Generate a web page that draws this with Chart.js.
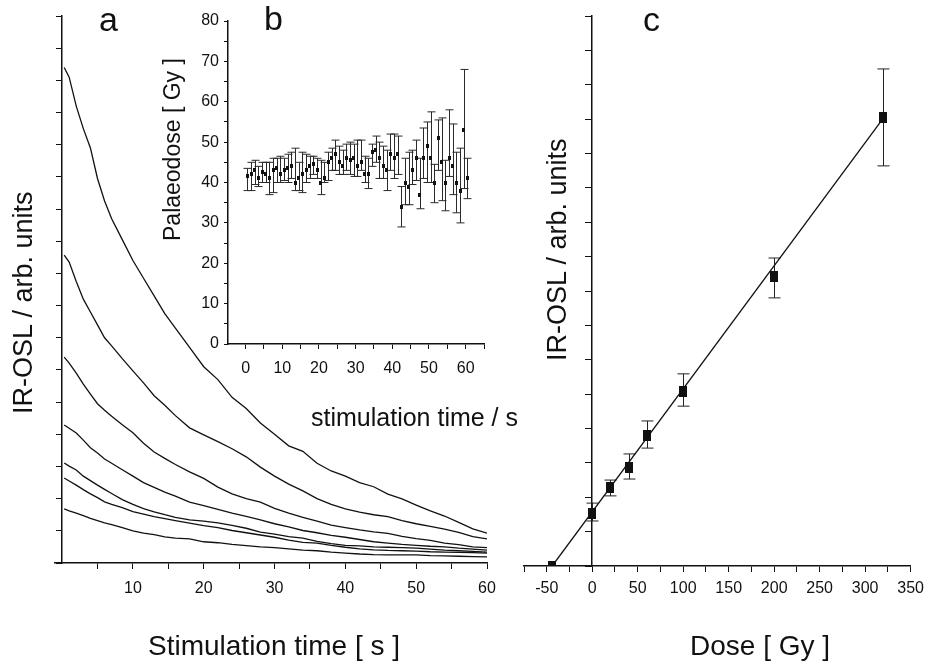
<!DOCTYPE html>
<html>
<head>
<meta charset="utf-8">
<script src="https://cdn.jsdelivr.net/npm/chart.js@4.4.1/dist/chart.umd.min.js"></script>
<style>
  body { margin: 0; background: #fff; }
  #wrap { position: relative; width: 931px; height: 663px; overflow: hidden;
          font-family: "Liberation Sans", Arial, sans-serif; color: #111; }
  canvas { position: absolute; top: 0; }
  .lbl { position: absolute; white-space: nowrap; line-height: 1; z-index: 5; }
  .rot { transform: rotate(-90deg); transform-origin: 0 0; }
</style>
</head>
<body>
<div id="wrap">
  <canvas id="chartA" width="520" height="663" style="left:0"></canvas>
  <canvas id="chartC" width="431" height="663" style="left:500px"></canvas>
  <canvas id="chartB" width="360" height="400" style="left:140px"></canvas>

  <span class="lbl" style="left:99px;top:2px;font-size:34px">a</span>
  <span class="lbl" style="left:264px;top:1px;font-size:34px">b</span>
  <span class="lbl" style="left:643px;top:2px;font-size:34px">c</span>
  <span class="lbl rot" style="left:10px;top:414px;font-size:27px">IR-OSL / arb. units</span>
  <span class="lbl rot" style="left:544px;top:361px;font-size:27px">IR-OSL / arb. units</span>
  <span class="lbl rot" style="left:161px;top:241px;font-size:23px">Palaeodose [ Gy ]</span>
  <span class="lbl" style="left:311px;top:405px;font-size:25px">stimulation time / s</span>
  <span class="lbl" style="left:148px;top:632px;font-size:28px">Stimulation time [ s ]</span>
  <span class="lbl" style="left:690px;top:632px;font-size:28px">Dose [ Gy ]</span>
</div>
<script>
// panel a: IR-OSL decay curves
const aTime = [0.3, 1, 2, 3, 4, 5, 6, 7, 8.5, 10, 11.5, 13, 14.5, 16, 18, 20, 22, 24, 26, 28,
  30, 32, 34, 36, 38, 40, 42, 44, 46, 48, 50, 52, 54, 56, 58, 60];
const curve1 = [15.4, 15.1, 14.2, 13.5, 12.9, 11.95, 11.25, 10.7, 10.05, 9.4, 8.85, 8.3, 7.75, 7.3, 6.7, 6.1, 5.7, 5.15, 4.8, 4.35,
  4.0, 3.64, 3.47, 3.1, 2.86, 2.7, 2.5, 2.37, 2.14, 1.99, 1.8, 1.62, 1.46, 1.26, 1.06, 0.93];
const curve2 = [9.57, 9.35, 8.75, 8.2, 7.8, 7.4, 7.0, 6.75, 6.35, 5.97, 5.6, 5.2, 4.9, 4.58, 4.2, 3.98, 3.77, 3.55, 3.3, 2.98,
  2.7, 2.45, 2.24, 2.0, 1.82, 1.68, 1.58, 1.5, 1.44, 1.32, 1.22, 1.14, 1.05, 0.95, 0.82, 0.75];
const curve3 = [6.4, 6.21, 5.9, 5.56, 5.25, 4.95, 4.75, 4.56, 4.3, 4.05, 3.72, 3.45, 3.25, 3.06, 2.83, 2.63, 2.36, 2.15, 2.0, 1.89,
  1.7, 1.55, 1.42, 1.3, 1.18, 1.1, 1.03, 0.97, 0.92, 0.83, 0.76, 0.7, 0.62, 0.57, 0.5, 0.48];
const curve4 = [4.29, 4.19, 4.04, 3.82, 3.58, 3.42, 3.23, 3.1, 2.9, 2.7, 2.5, 2.35, 2.2, 2.08, 1.89, 1.78, 1.67, 1.55, 1.45, 1.34,
  1.22, 1.12, 1.01, 0.94, 0.86, 0.8, 0.73, 0.66, 0.62, 0.58, 0.55, 0.52, 0.5, 0.46, 0.43, 0.4];
const curve5 = [3.11, 3.01, 2.89, 2.7, 2.56, 2.42, 2.29, 2.16, 1.97, 1.82, 1.69, 1.59, 1.5, 1.42, 1.34, 1.3, 1.25, 1.17, 1.08, 0.96,
  0.9, 0.82, 0.77, 0.67, 0.6, 0.55, 0.53, 0.5, 0.49, 0.48, 0.46, 0.43, 0.4, 0.38, 0.36, 0.34];
const curve6 = [2.64, 2.55, 2.42, 2.28, 2.15, 2.03, 1.9, 1.82, 1.72, 1.6, 1.52, 1.44, 1.38, 1.32, 1.24, 1.16, 1.1, 1.01, 0.94, 0.87,
  0.8, 0.71, 0.64, 0.62, 0.55, 0.49, 0.44, 0.41, 0.39, 0.38, 0.37, 0.35, 0.34, 0.33, 0.32, 0.31];
const curve7 = [1.68, 1.62, 1.55, 1.47, 1.39, 1.32, 1.25, 1.19, 1.1, 1.0, 0.93, 0.88, 0.81, 0.77, 0.75, 0.66, 0.63, 0.58, 0.54, 0.5,
  0.48, 0.44, 0.4, 0.38, 0.34, 0.31, 0.28, 0.26, 0.25, 0.25, 0.25, 0.23, 0.22, 0.21, 0.2, 0.19];
const aTicksX = [5, 10, 15, 20, 25, 30, 35, 40, 45, 50, 55, 60];
const aTicksY = [0, 1, 2, 3, 4, 5, 6, 7, 8, 9, 10, 11, 12, 13, 14, 15, 16, 17];

// panel b: palaeodose vs stimulation time (inset)
const bTime = [0.5, 1.5, 2.5, 3.5, 4.5, 5.5, 6.5, 7.5, 8.5, 9.5, 10.5, 11.5, 12.5, 13.5, 14.5, 15.5, 16.5, 17.5, 18.5, 19.5,
  20.5, 21.5, 22.5, 23.5, 24.5, 25.5, 26.5, 27.5, 28.5, 29.5, 30.5, 31.5, 32.5, 33.5, 34.5, 35.5, 36.5, 37.5, 38.5, 39.5,
  40.5, 41.5, 42.5, 43.5, 44.5, 45.5, 46.5, 47.5, 48.5, 49.5, 50.5, 51.5, 52.5, 53.5, 54.5, 55.5, 56.5, 57.5, 58.5, 59.5, 60.5];
const bDose = [41.5, 42, 43, 41, 42.5, 42, 41, 43, 43.5, 42, 43, 43.5, 44, 40, 41, 42, 43, 44, 44.5, 43,
  40, 41, 45, 46, 47, 45, 44, 46, 45.5, 46, 44, 45, 42, 42, 47.5, 48, 46, 44, 43, 47,
  46, 47, 34, 40, 39, 43, 46, 37, 46, 49, 46, 40, 51, 45, 40, 46, 44, 40, 38, 53, 41];
const bLow = [38, 38, 39.5, 39, 40, 40, 37, 37.5, 40, 40, 40.5, 40, 41, 38, 38, 37.5, 40, 41, 42, 41,
  37, 40, 40.5, 43, 43, 42, 42, 43, 42, 41.5, 41.5, 43, 40, 38.5, 44, 45, 41, 41, 38, 43,
  41, 42, 29, 34.5, 34.5, 39.5, 40.5, 33.5, 41, 40, 40, 35, 43, 35.5, 33, 41.5, 37, 32.5, 30, 38.5, 36];
const bHigh = [43.5, 45, 45.5, 44, 45, 45, 45, 46, 46, 46.5, 46, 47, 47.5, 48.5, 45, 47.5, 47, 46.5, 46.5, 46,
  45.5, 45, 47.5, 48.5, 50.5, 49, 48, 49.5, 50, 49.5, 50.5, 50.5, 46.5, 46, 49.5, 51.5, 50, 49, 48, 52,
  52, 51.5, 39, 46, 47.5, 48, 50.5, 46, 53.5, 55, 57.5, 44.5, 55.5, 56, 45.5, 58, 54.5, 47.5, 48.5, 68, 46];
const bTicksX = [0, 5, 10, 15, 20, 25, 30, 35, 40, 45, 50, 55, 60, 65];
const bTicksY = [0, 5, 10, 15, 20, 25, 30, 35, 40, 45, 50, 55, 60, 65, 70, 75, 80];

// panel c: dose response
const cDose = [-44, 0, 20, 40, 60, 100, 200, 320];
const cSignal = [0, 1.54, 2.27, 2.88, 3.81, 5.09, 8.41, 13.06];
const cLow = [0, 1.31, 2.04, 2.53, 3.43, 4.65, 7.8, 11.64];
const cHigh = [0, 1.83, 2.5, 3.26, 4.22, 5.59, 8.96, 14.46];
const fitDose = [-44, 322];
const fitSignal = [0, 13.1];
const cTicksX = [-75, -50, -25, 0, 25, 50, 75, 100, 125, 150, 175, 200, 225, 250, 275, 300, 325, 350];
const cTicksY = [0, 1, 2, 3, 4, 5, 6, 7, 8, 9, 10, 11, 12, 13, 14, 15, 16];

const ink = '#111';
Chart.defaults.font.family = "'Liberation Sans', Arial, sans-serif";
Chart.defaults.color = ink;

function pts(xs, ys) {
  return xs.map((x, i) => ({x: x, y: ys[i]}));
}

function boxMarker(w, h) {
  const c = document.createElement('canvas');
  c.width = w; c.height = h;
  const g = c.getContext('2d');
  g.fillStyle = ink;
  g.fillRect(0, 0, w, h);
  return c;
}

// vertical error bars with caps, drawn through the chart's own scales
const errorBars = {
  id: 'errorBars',
  beforeDatasetsDraw(chart, args, opts) {
    const ctx = chart.ctx;
    const xs = chart.scales.x, ys = chart.scales.y;
    chart.data.datasets.forEach(ds => {
      if (!ds.errLow) return;
      ctx.save();
      ctx.strokeStyle = opts.color || ink;
      ctx.lineWidth = opts.width || 1;
      ds.data.forEach((p, i) => {
        if (ds.errLow[i] === ds.errHigh[i]) return;
        const x = Math.round(xs.getPixelForValue(p.x)) + 0.5;
        const y1 = ys.getPixelForValue(ds.errLow[i]);
        const y2 = ys.getPixelForValue(ds.errHigh[i]);
        ctx.beginPath();
        ctx.moveTo(x, y1); ctx.lineTo(x, y2);
        ctx.moveTo(x - opts.cap, y1); ctx.lineTo(x + opts.cap, y1);
        ctx.moveTo(x - opts.cap, y2); ctx.lineTo(x + opts.cap, y2);
        ctx.stroke();
      });
      ctx.restore();
    });
  }
};

function axis(opts) {
  return Object.assign({
    type: 'linear',
    grid: { drawOnChartArea: false, drawTicks: true, tickLength: 6, color: ink, lineWidth: 1 },
    border: { display: true, color: ink, width: 1.5 }
  }, opts);
}

function tickList(list) {
  return s => { s.ticks = list.map(v => ({value: v})); };
}

// ---- panel a ----
const aCurves = [curve1, curve2, curve3, curve4, curve5, curve6, curve7];
new Chart(document.getElementById('chartA'), {
  type: 'scatter',
  data: {
    datasets: aCurves.map(c => ({
      data: pts(aTime, c), showLine: true, pointRadius: 0,
      borderColor: ink, borderWidth: 1.3, tension: 0
    }))
  },
  options: {
    responsive: false, animation: false, events: [],
    layout: { padding: { left: 55, right: 33, top: 16, bottom: 0 } },
    plugins: { legend: { display: false }, tooltip: { enabled: false } },
    scales: {
      x: axis({
        min: -1, max: 60, afterBuildTicks: tickList(aTicksX),
        afterFit: s => { s.height = 100; },
        ticks: { callback: v => (v % 10 === 0 ? String(v) : ''), font: { size: 16 }, padding: 10, maxRotation: 0, autoSkip: false }
      }),
      y: axis({
        min: 0, max: 17, position: { x: 0 }, afterBuildTicks: tickList(aTicksY),
        grid: { drawOnChartArea: false, drawTicks: true, tickLength: 5, color: ink, lineWidth: 1 },
        ticks: { callback: () => '', autoSkip: false }
      })
    }
  }
});

// ---- panel b (inset) ----
new Chart(document.getElementById('chartB'), {
  type: 'scatter',
  data: {
    datasets: [{
      data: pts(bTime, bDose), errLow: bLow, errHigh: bHigh,
      pointStyle: boxMarker(3, 4), pointRadius: 2, borderWidth: 0, backgroundColor: ink
    }]
  },
  options: {
    responsive: false, animation: false, events: [],
    layout: { padding: { left: 0, right: 16, top: 21, bottom: 0 } },
    plugins: { legend: { display: false }, tooltip: { enabled: false },
               errorBars: { cap: 4, width: 1, color: '#2a2a2a' } },
    scales: {
      x: axis({
        min: -4.8, max: 65, afterBuildTicks: tickList(bTicksX),
        afterFit: s => { s.height = 56; },
        grid: { drawOnChartArea: false, drawTicks: true, tickLength: 5, color: ink, lineWidth: 1 },
        ticks: { callback: v => (v % 10 === 0 && v <= 60 ? String(v) : ''), font: { size: 16 }, padding: 10, maxRotation: 0, autoSkip: false }
      }),
      y: axis({
        min: 0, max: 80, afterBuildTicks: tickList(bTicksY),
        afterFit: s => { s.width = 88; },
        grid: { drawOnChartArea: false, drawTicks: true, tickLength: 4, color: ink, lineWidth: 1 },
        ticks: { callback: v => (v % 10 === 0 ? String(v) : ''), font: { size: 16 }, padding: 5, autoSkip: false }
      })
    }
  },
  plugins: [errorBars]
});

// ---- panel c ----
new Chart(document.getElementById('chartC'), {
  type: 'scatter',
  data: {
    datasets: [
      { data: pts(fitDose, fitSignal), showLine: true, pointRadius: 0, borderColor: ink, borderWidth: 1.3 },
      { data: pts(cDose, cSignal), errLow: cLow, errHigh: cHigh,
        pointStyle: boxMarker(8, 11), pointRadius: 5, borderWidth: 0, backgroundColor: ink }
    ]
  },
  options: {
    responsive: false, animation: false, events: [],
    layout: { padding: { left: 24, right: 18, top: 16, bottom: 0 } },
    plugins: { legend: { display: false }, tooltip: { enabled: false },
               errorBars: { cap: 6, width: 1, color: '#222' } },
    scales: {
      x: axis({
        min: -75, max: 350, afterBuildTicks: tickList(cTicksX),
        afterFit: s => { s.height = 97; },
        ticks: { callback: v => (v % 50 === 0 ? String(v) : ''), font: { size: 16 }, padding: 7, maxRotation: 0, autoSkip: false }
      }),
      y: axis({
        min: 0, max: 16, position: { x: 0 }, afterBuildTicks: tickList(cTicksY),
        grid: { drawOnChartArea: false, drawTicks: true, tickLength: 6, color: ink, lineWidth: 1 },
        ticks: { callback: () => '', autoSkip: false }
      })
    }
  },
  plugins: [errorBars]
});
</script>
</body>
</html>
